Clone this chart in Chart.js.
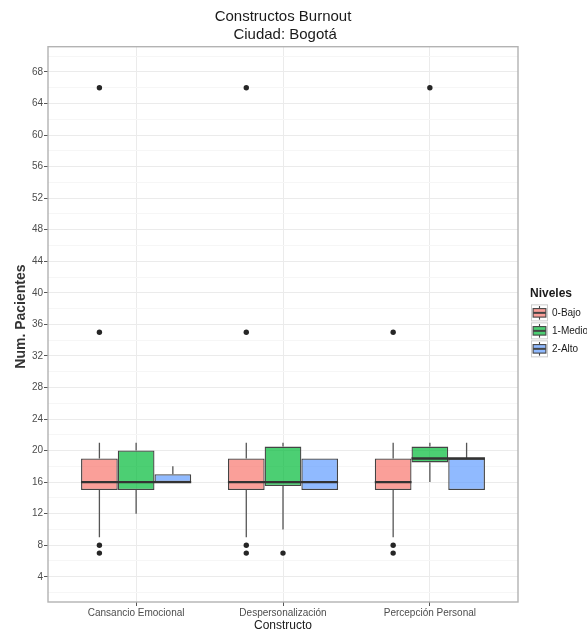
<!DOCTYPE html>
<html>
<head>
<meta charset="utf-8">
<script src="https://cdn.jsdelivr.net/npm/chart.js@4/dist/chart.umd.min.js"></script>
<style>
  html, body { margin: 0; padding: 0; background: #ffffff; }
  canvas { display: block; }
</style>
</head>
<body>
<canvas id="grafico" width="587" height="633"></canvas>
<script>
// Constructos del cuestionario y niveles de burnout
const constructos = ['Cansancio Emocional', 'Despersonalización', 'Percepción Personal'];
const niveles = ['0-Bajo', '1-Medio', '2-Alto'];

// Resumen de cada caja por constructo: [bigote inferior, Q1, mediana, Q3, bigote superior]
const bajoResumen  = [[9, 15, 16, 19, 21], [9, 15, 16, 19, 21], [9, 15, 16, 19, 21]];
const medioResumen = [[12, 15, 16, 20, 21], [10, 15.5, 16, 20.5, 21], [16, 18.5, 19, 20.5, 21]];
const altoResumen  = [[16, 16, 16, 17, 18], [15, 15, 16, 19, 19], [15, 15, 19, 19, 21]];

// Valores atípicos por constructo
const bajoAtipicos  = [[7, 8, 35, 66], [7, 8, 35, 66], [7, 8, 35]];
const medioAtipicos = [[], [7], [66]];
const altoAtipicos  = [[], [], []];

// Marcas del eje Y
const yMarcas = [4, 8, 12, 16, 20, 24, 28, 32, 36, 40, 44, 48, 52, 56, 60, 64, 68];

const resumenes = [bajoResumen, medioResumen, altoResumen];
const atipicos = [bajoAtipicos, medioAtipicos, altoAtipicos];
const rellenos = ['rgba(248,118,109,0.7)', 'rgba(0,186,56,0.7)', 'rgba(97,156,255,0.7)'];
const BORDE = '#444444';
const ANCHO_GRUPO = 0.75;               // fracción de la categoría ocupada por las tres cajas
const DESPL = ANCHO_GRUPO / niveles.length;
const MEDIA_CAJA = DESPL / 2;
const FUENTE = '"Liberation Sans", Arial, Helvetica, sans-serif';

const posicion = (j, i) => j + 1 + (i - 1) * DESPL;

// Cajas: barras flotantes Q1..Q3 agrupadas por constructo
const cajas = niveles.map((nivel, i) => ({
  type: 'bar',
  label: nivel,
  data: resumenes[i].map((r, j) => ({ x: j + 1, y: [r[1], r[3]] })),
  backgroundColor: rellenos[i],
  borderColor: BORDE,
  borderWidth: 1.3,
  borderSkipped: false,
  categoryPercentage: ANCHO_GRUPO,
  barPercentage: 1,
  order: 3
}));

// Bigotes y medianas: segmentos separados por huecos
const puntosBigotes = [];
const puntosMedianas = [];
const puntosAtipicos = [];
resumenes.forEach((res, i) => res.forEach((r, j) => {
  const x = posicion(j, i);
  puntosBigotes.push({ x, y: r[0] }, { x, y: r[1] }, { x, y: null },
                     { x, y: r[3] }, { x, y: r[4] }, { x, y: null });
  puntosMedianas.push({ x: x - MEDIA_CAJA, y: r[2] }, { x: x + MEDIA_CAJA, y: r[2] }, { x, y: null });
}));
atipicos.forEach((grupo, i) => grupo.forEach((vals, j) => {
  vals.forEach(v => puntosAtipicos.push({ x: posicion(j, i), y: v }));
}));

const bigotes = {
  type: 'line', label: 'bigotes', data: puntosBigotes,
  borderColor: '#555555', borderWidth: 1.3, pointRadius: 0, spanGaps: false, fill: false, order: 4
};
const medianas = {
  type: 'line', label: 'medianas', data: puntosMedianas,
  borderColor: '#333333', borderWidth: 2.4, pointRadius: 0, spanGaps: false, fill: false, order: 1
};
const puntos = {
  type: 'scatter', label: 'atípicos', data: puntosAtipicos,
  backgroundColor: '#262626', borderWidth: 0, pointRadius: 2.7, order: 0
};

// Borde del panel
const marcoPanel = {
  id: 'marcoPanel',
  afterDatasetsDraw(chart) {
    const { ctx, chartArea: a } = chart;
    ctx.save();
    ctx.strokeStyle = '#b3b3b3';
    ctx.lineWidth = 1.4;
    ctx.strokeRect(a.left, a.top, a.right - a.left, a.bottom - a.top);
    ctx.restore();
  }
};

// Leyenda con claves de diagrama de caja
const leyendaNiveles = {
  id: 'leyendaNiveles',
  afterDraw(chart) {
    const { ctx, chartArea: a } = chart;
    const clave = 17;
    const paso = 18;
    const x0 = a.right + 13;
    const medio = (a.top + a.bottom) / 2;
    const yClaves = medio - 20;
    ctx.save();
    ctx.textAlign = 'left';
    ctx.textBaseline = 'middle';
    ctx.fillStyle = '#1a1a1a';
    ctx.font = 'bold 12px ' + FUENTE;
    ctx.fillText('Niveles', x0 - 1, yClaves - 11);
    niveles.forEach((nivel, i) => {
      const y = yClaves + i * paso;
      ctx.fillStyle = '#ffffff';
      ctx.fillRect(x0, y, clave, clave);
      ctx.strokeStyle = '#cccccc';
      ctx.lineWidth = 1;
      ctx.strokeRect(x0 + 0.5, y + 0.5, clave - 1, clave - 1);
      const cx = x0 + clave / 2;
      ctx.strokeStyle = BORDE;
      ctx.lineWidth = 1.1;
      ctx.beginPath();
      ctx.moveTo(cx, y + clave * 0.1);
      ctx.lineTo(cx, y + clave * 0.9);
      ctx.stroke();
      const bx = x0 + clave * 0.125, bw = clave * 0.75;
      const by = y + clave * 0.25, bh = clave * 0.5;
      ctx.fillStyle = '#ffffff';
      ctx.fillRect(bx, by, bw, bh);
      ctx.fillStyle = rellenos[i];
      ctx.fillRect(bx, by, bw, bh);
      ctx.strokeRect(bx, by, bw, bh);
      ctx.lineWidth = 2;
      ctx.beginPath();
      ctx.moveTo(bx, y + clave / 2);
      ctx.lineTo(bx + bw, y + clave / 2);
      ctx.stroke();
      ctx.fillStyle = '#1a1a1a';
      ctx.font = '10px ' + FUENTE;
      ctx.fillText(nivel, x0 + clave + 4, y + clave / 2);
    });
    ctx.restore();
  }
};

const esMayor = v => v % 4 === 0;

new Chart(document.getElementById('grafico'), {
  type: 'bar',
  data: { datasets: [...cajas, bigotes, medianas, puntos] },
  plugins: [marcoPanel, leyendaNiveles],
  options: {
    responsive: false,
    animation: false,
    devicePixelRatio: 1,
    layout: { padding: { left: 0, right: 69, top: 0, bottom: 0 } },
    plugins: {
      legend: { display: false },
      tooltip: { enabled: false },
      title: {
        display: true,
        text: ['Constructos Burnout', ' Ciudad: Bogotá'],
        fullSize: false,
        color: '#1a1a1a',
        font: { family: FUENTE, size: 15, weight: 'normal', lineHeight: 1.15 },
        padding: { top: 8.5, bottom: 3.7 }
      }
    },
    scales: {
      x: {
        type: 'linear',
        min: 0.4,
        max: 3.6,
        offset: false,
        afterBuildTicks: s => { s.ticks = constructos.map((c, k) => ({ value: k + 1 })); },
        afterFit: s => { s.height = 31; },
        ticks: {
          autoSkip: false,
          maxRotation: 0,
          padding: 1,
          color: '#4d4d4d',
          font: { family: FUENTE, size: 10 },
          callback: v => constructos[v - 1]
        },
        grid: { offset: false, color: '#ebebeb', lineWidth: 1, tickColor: '#555555', tickLength: 4 },
        border: { display: false },
        title: {
          display: true,
          text: 'Constructo',
          color: '#1a1a1a',
          font: { family: FUENTE, size: 12 },
          padding: { top: 0, bottom: 0 }
        }
      },
      y: {
        type: 'linear',
        min: 0.8,
        max: 71.2,
        afterBuildTicks: s => {
          const t = [];
          yMarcas.forEach(m => {
            t.push({ value: m - 2 });
            t.push({ value: m });
          });
          t.push({ value: yMarcas[yMarcas.length - 1] + 2 });
          s.ticks = t;
        },
        afterFit: s => { s.width = 48; },
        ticks: {
          autoSkip: false,
          padding: 1,
          color: '#4d4d4d',
          font: { family: FUENTE, size: 10 },
          callback: v => (esMayor(v) ? String(v) : '')
        },
        grid: {
          color: c => (c.tick && esMayor(c.tick.value) ? '#ebebeb' : '#f6f6f6'),
          tickColor: c => (c.tick && esMayor(c.tick.value) ? '#555555' : 'rgba(0,0,0,0)'),
          lineWidth: 1,
          tickLength: 4
        },
        border: { display: false },
        title: {
          display: true,
          text: '    Num. Pacientes',
          color: '#333333',
          font: { family: FUENTE, size: 14, weight: 'bold' },
          padding: { top: 13, bottom: 0 }
        }
      }
    }
  }
});
</script>
</body>
</html>
